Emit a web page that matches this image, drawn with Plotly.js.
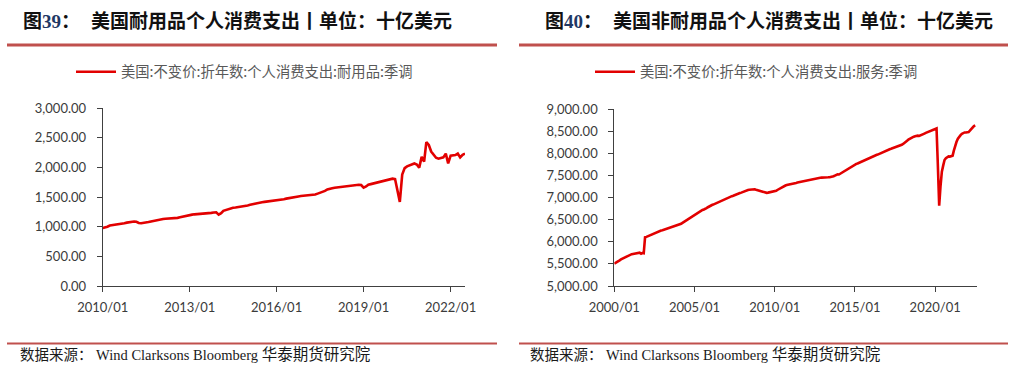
<!DOCTYPE html>
<html>
<head>
<meta charset="utf-8">
<script src="https://cdn.plot.ly/plotly-3.0.1.min.js"></script>
<style>
  html, body { margin: 0; padding: 0; background: #ffffff; }
  #chart { width: 1014px; height: 372px; }
</style>
</head>
<body>
<div id="chart"></div>
<script>
// ---------- DATA ----------
// Left chart: US real PCE, durable goods, SAAR, billions (monthly, from 2010/01)
const durableStart = [2010, 1];
const durableValues = [
  978, 985, 1000, 1020, 1025, 1028, 1035, 1045, 1055, 1060, 1070, 1080,   // 2010
  1088, 1090, 1085, 1065, 1060, 1064, 1072, 1080, 1090, 1100, 1108, 1118, // 2011
  1125, 1130, 1135, 1138, 1140, 1138, 1145, 1150, 1160, 1170, 1185, 1192, // 2012
  1200, 1205, 1210, 1212, 1215, 1220, 1222, 1225, 1230, 1235, 1240, 1245, // 2013
  1205, 1230, 1270, 1285, 1300, 1315, 1320, 1325, 1330, 1340, 1348, 1355, // 2014
  1360, 1370, 1385, 1390, 1398, 1410, 1415, 1420, 1425, 1428, 1430, 1435, // 2015
  1440, 1450, 1455, 1465, 1475, 1485, 1490, 1500, 1505, 1512, 1518, 1522, // 2016
  1525, 1530, 1535, 1540, 1545, 1560, 1575, 1585, 1605, 1630, 1645, 1650, // 2017
  1660, 1665, 1675, 1680, 1685, 1690, 1695, 1700, 1702, 1706, 1710, 1705, // 2018
  1660, 1680, 1710, 1720, 1730, 1745, 1752, 1765, 1775, 1785, 1795, 1800, // 2019
  1812, 1805, 1620, 1420, 1880, 1990, 2020, 2040, 2055, 2068, 2050, 1995, // 2020
  2180, 2100, 2430, 2380, 2270, 2210, 2165, 2150, 2160, 2172, 2235, 2070, // 2021
  2200, 2205, 2210, 2235, 2170, 2215, 2235                                // 2022
];
const durableName = '美国:不变价:折年数:个人消费支出:耐用品:季调';
const durableTickVals = ['2010-01-01', '2013-01-01', '2016-01-01', '2019-01-01', '2022-01-01'];
const durableTickText = ['2010/01', '2013/01', '2016/01', '2019/01', '2022/01'];
const durableYTicks = [0, 500, 1000, 1500, 2000, 2500, 3000];

// Right chart: US real PCE, services, SAAR, billions (monthly, from 2000/01)
const servicesStart = [2000, 1];
const servicesValues = [
  5505, 5520, 5545, 5560, 5580, 5600, 5615, 5635, 5650, 5670, 5690, 5705, // 2000
  5715, 5720, 5725, 5730, 5735, 5742, 5748, 5752, 5730, 5745, 5740, 6100, // 2001
  6110, 6125, 6140, 6155, 6170, 6185, 6200, 6215, 6225, 6235, 6245, 6255, // 2002
  6260, 6270, 6275, 6290, 6300, 6310, 6320, 6330, 6340, 6345, 6355, 6365, // 2003
  6375, 6390, 6405, 6425, 6445, 6460, 6480, 6500, 6520, 6545, 6570, 6590, // 2004
  6605, 6625, 6640, 6660, 6680, 6700, 6718, 6730, 6740, 6760, 6780, 6800, // 2005
  6815, 6830, 6840, 6855, 6870, 6885, 6900, 6915, 6925, 6945, 6960, 6975, // 2006
  6985, 6995, 7005, 7020, 7030, 7040, 7055, 7065, 7075, 7085, 7100, 7110, // 2007
  7125, 7140, 7150, 7160, 7170, 7175, 7180, 7182, 7178, 7185, 7175, 7165, // 2008
  7160, 7150, 7140, 7130, 7120, 7110, 7105, 7110, 7115, 7120, 7125, 7128, // 2009
  7135, 7150, 7170, 7190, 7210, 7230, 7250, 7262, 7270, 7280, 7290, 7298, // 2010
  7300, 7310, 7318, 7325, 7330, 7338, 7345, 7352, 7357, 7362, 7368, 7375, // 2011
  7385, 7395, 7405, 7415, 7420, 7425, 7430, 7435, 7440, 7445, 7448, 7450, // 2012
  7448, 7450, 7452, 7455, 7456, 7458, 7460, 7470, 7480, 7495, 7510, 7525, // 2013
  7520, 7540, 7560, 7580, 7600, 7615, 7630, 7650, 7675, 7700, 7720, 7735, // 2014
  7745, 7760, 7770, 7785, 7796, 7810, 7825, 7840, 7855, 7870, 7885, 7900, // 2015
  7910, 7920, 7935, 7945, 7960, 7970, 7985, 7995, 8005, 8015, 8030, 8045, // 2016
  8060, 8075, 8090, 8100, 8110, 8120, 8130, 8140, 8150, 8165, 8180, 8190, // 2017
  8210, 8230, 8255, 8280, 8310, 8330, 8345, 8360, 8375, 8385, 8395, 8398, // 2018
  8390, 8400, 8415, 8430, 8445, 8460, 8474, 8485, 8500, 8515, 8525, 8535, // 2019
  8545, 8560, 7750, 6815, 7250, 7583, 7720, 7848, 7890, 7920, 7930, 7925, // 2020
  7930, 7945, 8060, 8190, 8260, 8330, 8380, 8410, 8440, 8460, 8470, 8470, // 2021
  8470, 8480, 8510, 8550, 8590, 8615, 8630                                // 2022
];
const servicesName = '美国:不变价:折年数:个人消费支出:服务:季调';
const servicesTickVals = ['2000-01-01', '2005-01-01', '2010-01-01', '2015-01-01', '2020-01-01'];
const servicesTickText = ['2000/01', '2005/01', '2010/01', '2015/01', '2020/01'];
const servicesYTicks = [5000, 5500, 6000, 6500, 7000, 7500, 8000, 8500, 9000];

const titleLeftPrefix = '图<span style="font-family:\'Liberation Serif\';color:#1F3864">39</span>：';
const titleLeftText = '美国耐用品个人消费支出丨单位：十亿美元';
const titleRightPrefix = '图<span style="font-family:\'Liberation Serif\';color:#1F3864">40</span>：';
const titleRightText = '美国非耐用品个人消费支出丨单位：十亿美元';
const sourceText = '数据来源：&nbsp;Wind Clarksons Bloomberg <span style="font-size:15.5px">华泰期货研究院</span>';

// ---------- HELPERS ----------
function monthDates(start, n) {
  const out = [];
  let y = start[0], m = start[1];
  for (let i = 0; i < n; i++) {
    out.push(y + '-' + String(m).padStart(2, '0') + '-01');
    m++; if (m > 12) { m = 1; y++; }
  }
  return out;
}
const W = 1014, H = 372;
const px = v => v / W;
const py = v => 1 - v / H;

const durableDates = monthDates(durableStart, durableValues.length);
const servicesDates = monthDates(servicesStart, servicesValues.length);

const lineColor = 'rgb(226,0,0)';
const accent = '#C0504D';
const axisColor = '#404040';
const tickFont = { family: 'Lato, "Open Sans", sans-serif', size: 13, color: '#3b3b3b' };

const traces = [
  { x: durableDates, y: durableValues, type: 'scatter', mode: 'lines', name: durableName,
    line: { color: lineColor, width: 2.6 }, xaxis: 'x', yaxis: 'y', legend: 'legend' },
  { x: servicesDates, y: servicesValues, type: 'scatter', mode: 'lines', name: servicesName,
    line: { color: lineColor, width: 2.6 }, xaxis: 'x2', yaxis: 'y2', legend: 'legend2' }
];

function xAxis(domain, range, vals, text) {
  return {
    domain: domain, range: range, type: 'date',
    tickvals: vals, ticktext: text, ticks: 'outside', ticklen: 5, tickwidth: 1, tickcolor: axisColor,
    ticklabelstandoff: 4,
    showline: true, linecolor: axisColor, linewidth: 1, showgrid: false, zeroline: false,
    tickfont: tickFont, fixedrange: true
  };
}
function yAxis(domain, range, vals) {
  return {
    domain: domain, range: range, tickvals: vals, tickformat: ',.2f',
    ticks: 'outside', ticklen: 5, tickwidth: 1, tickcolor: axisColor, ticklabelstandoff: 8,
    showline: true, linecolor: axisColor, linewidth: 1, showgrid: false, zeroline: false,
    tickfont: tickFont, fixedrange: true
  };
}

const titleFont = { family: '"Noto Sans CJK SC", sans-serif', size: 19, color: '#111111' };
const srcFont = { family: '"Liberation Serif", "Noto Sans CJK SC", serif', size: 14.5, color: '#1a1a1a' };
const legendFont = { family: '"Noto Sans CJK SC", sans-serif', size: 14.3, color: '#595959' };

const layout = {
  width: W, height: H,
  margin: { l: 0, r: 0, t: 0, b: 0 },
  paper_bgcolor: '#ffffff', plot_bgcolor: '#ffffff',
  showlegend: true,
  xaxis: Object.assign(xAxis([px(102.7), px(465)], ['2010-01-01', '2022-07-01'], durableTickVals, durableTickText), { anchor: 'y' }),
  yaxis: Object.assign(yAxis([1 - 286 / H, 1 - 108.3 / H], [0, 3000], durableYTicks), { anchor: 'x' }),
  xaxis2: Object.assign(xAxis([px(614.3), px(977)], ['2000-01-01', '2022-08-10'], servicesTickVals, servicesTickText), { anchor: 'y2' }),
  yaxis2: Object.assign(yAxis([1 - 286 / H, 1 - 109 / H], [5000, 9000], servicesYTicks), { anchor: 'x2' }),
  legend: { x: px(71), y: py(72), xanchor: 'left', yanchor: 'middle', orientation: 'h', itemwidth: 40,
            font: legendFont, bgcolor: 'rgba(0,0,0,0)', borderwidth: 0 },
  legend2: { x: px(590), y: py(72), xanchor: 'left', yanchor: 'middle', orientation: 'h', itemwidth: 40,
             font: legendFont, bgcolor: 'rgba(0,0,0,0)', borderwidth: 0 },
  shapes: [
    { type: 'line', xref: 'paper', yref: 'paper', x0: px(7), x1: px(497), y0: py(45), y1: py(45), line: { color: accent, width: 3 } },
    { type: 'line', xref: 'paper', yref: 'paper', x0: px(519), x1: px(1008), y0: py(45), y1: py(45), line: { color: accent, width: 3 } },
    { type: 'line', xref: 'paper', yref: 'paper', x0: px(7), x1: px(497), y0: py(343.5), y1: py(343.5), line: { color: accent, width: 2 } },
    { type: 'line', xref: 'paper', yref: 'paper', x0: px(519), x1: px(1008), y0: py(343.5), y1: py(343.5), line: { color: accent, width: 2 } }
  ],
  annotations: [
    { xref: 'paper', yref: 'paper', x: px(21), y: py(20), xanchor: 'left', yanchor: 'middle', showarrow: false,
      text: '<b>' + titleLeftPrefix + '</b>', font: titleFont },
    { xref: 'paper', yref: 'paper', x: px(89), y: py(20), xanchor: 'left', yanchor: 'middle', showarrow: false,
      text: '<b>' + titleLeftText + '</b>', font: titleFont },
    { xref: 'paper', yref: 'paper', x: px(543), y: py(20), xanchor: 'left', yanchor: 'middle', showarrow: false,
      text: '<b>' + titleRightPrefix + '</b>', font: titleFont },
    { xref: 'paper', yref: 'paper', x: px(611), y: py(20), xanchor: 'left', yanchor: 'middle', showarrow: false,
      text: '<b>' + titleRightText + '</b>', font: titleFont },
    { xref: 'paper', yref: 'paper', x: px(18), y: py(354), xanchor: 'left', yanchor: 'middle', showarrow: false,
      text: sourceText, font: srcFont },
    { xref: 'paper', yref: 'paper', x: px(528), y: py(354), xanchor: 'left', yanchor: 'middle', showarrow: false,
      text: sourceText, font: srcFont }
  ]
};

Plotly.newPlot('chart', traces, layout, { displayModeBar: false, staticPlot: true });
</script>
</body>
</html>
